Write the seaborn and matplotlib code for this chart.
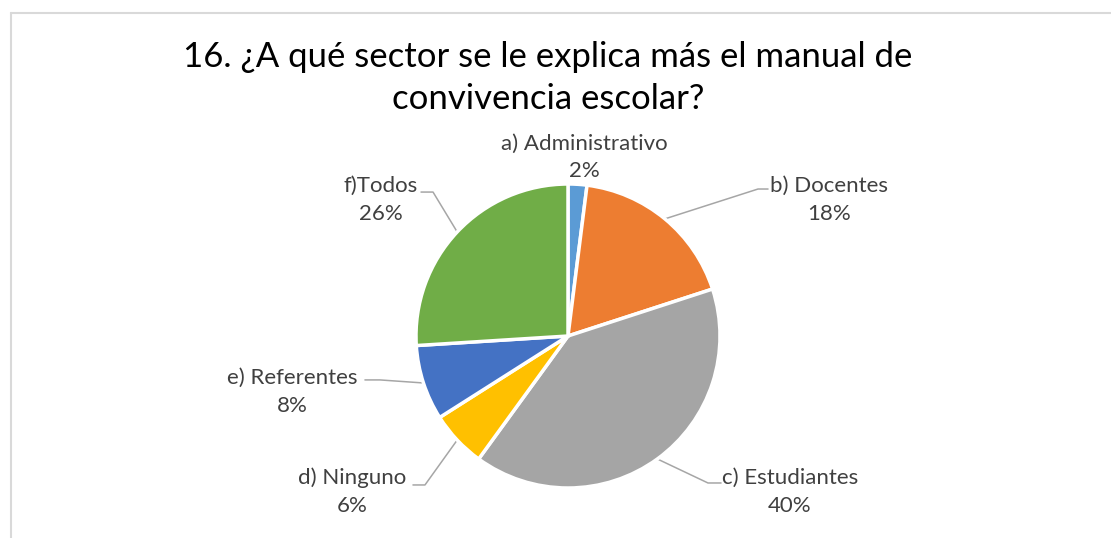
import matplotlib.pyplot as plt
import seaborn as sns
import numpy as np
from matplotlib.lines import Line2D

# ---------------------------
# Data
# ---------------------------
categories = ["a) Administrativo", "b) Docentes", "c) Estudiantes",
              "d) Ninguno", "e) Referentes", "f)Todos"]
values = [2, 18, 40, 6, 8, 26]
title = "16. ¿A qué sector se le explica más el manual de\nconvivencia escolar?"

colors = ["#5B9BD5", "#ED7D31", "#A5A5A5", "#FFC000", "#4472C4", "#70AD47"]

# label layout (in pie-radius units), elbow of the leader line, None = no leader
label_pos = [(0.105, 1.175), (1.72, 0.895), (1.46, -1.026),
             (-1.42, -1.026), (-1.816, -0.368), (-1.23, 0.895)]
elbows = [None, (1.25, 0.967), (0.921, -0.967), (-0.941, -0.980),
          (-1.237, -0.289), (-0.888, 0.947)]
ends = [None, (1.316, 0.967), (1.007, -0.967), (-1.02, -0.980),
        (-1.336, -0.289), (-0.967, 0.947)]

# ---------------------------
# Plot
# ---------------------------
sns.set_theme(style="white")
plt.rcParams['font.family'] = ['Lato', 'DejaVu Sans']

W, H = 1111, 538
fig = plt.figure(figsize=(W / 100, H / 100), dpi=100)
cx, cy, r = 568, 336, 152
ax = fig.add_axes([(cx - r) / W, (H - cy - r) / H, 2 * r / W, 2 * r / H])

wedges, _ = ax.pie(values, colors=colors, startangle=90, counterclock=False,
                   radius=1, wedgeprops=dict(edgecolor="white", linewidth=2.5))
ax.set_xlim(-1, 1)
ax.set_ylim(-1, 1)
ax.set_aspect("auto")
ax.axis("off")

total = sum(values)
cum = 0
for i, (cat, v) in enumerate(zip(categories, values)):
    mid = 90 - (cum + v / 2) / total * 360
    cum += v
    sx, sy = np.cos(np.radians(mid)), np.sin(np.radians(mid))
    if elbows[i] is not None:
        ax.plot([sx, elbows[i][0], ends[i][0]], [sy, elbows[i][1], ends[i][1]],
                color="#A6A6A6", lw=1.1, clip_on=False, zorder=0)
    lx, ly = label_pos[i]
    ax.text(lx, ly, f"{cat}\n{v}%", ha="center", va="center",
            fontsize=16, color="#404040", linespacing=1.5, clip_on=False)

fig.text(548 / W, 1 - 78 / H, title, ha="center", va="center",
         fontsize=25, color="black", linespacing=1.4)

# chart frame (cropped on right and bottom)
fig.add_artist(Line2D([11 / W, 11 / W], [1 - 13 / H, 0], color="#D9D9D9", lw=1.5))
fig.add_artist(Line2D([11 / W, 1], [1 - 13 / H, 1 - 13 / H], color="#D9D9D9", lw=1.5))

fig.savefig("out.png", dpi=100)
